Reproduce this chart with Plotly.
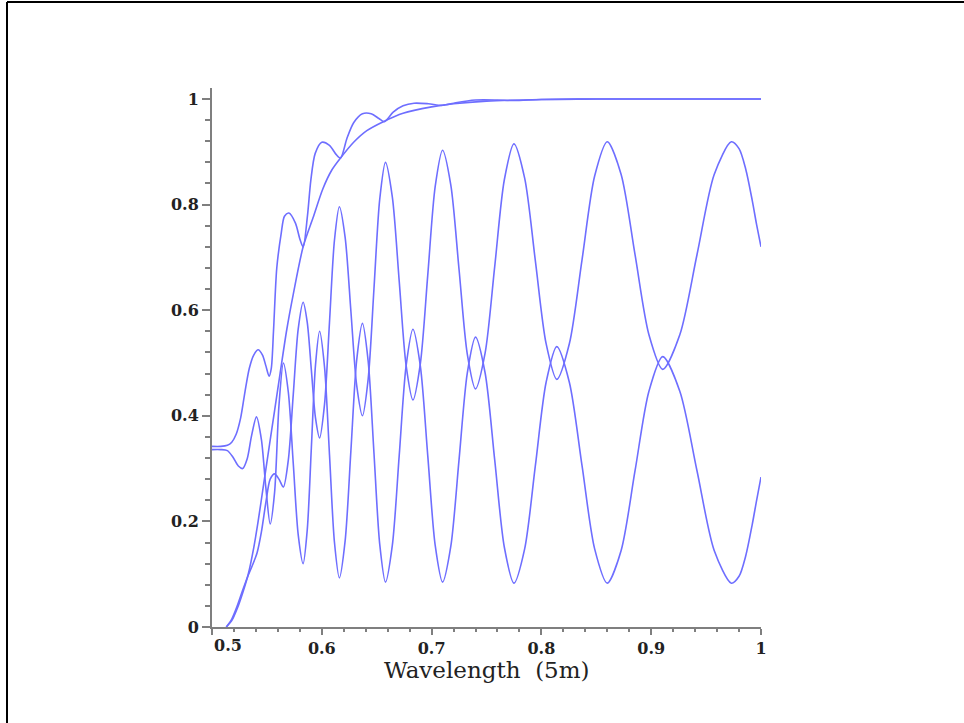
import plotly.graph_objects as go

# ---- data ----
a_x = [0.513, 0.518, 0.523, 0.528, 0.533, 0.538, 0.542, 0.547, 0.552, 0.557, 0.562, 0.568,
       0.574, 0.583, 0.592, 0.601, 0.609, 0.617, 0.629, 0.641, 0.656, 0.674, 0.700, 0.720,
       0.750, 0.800, 0.850, 1.000]
a_y = [0.000, 0.012, 0.035, 0.065, 0.100, 0.150, 0.200, 0.270, 0.340, 0.410, 0.480, 0.562,
       0.630, 0.720, 0.775, 0.830, 0.865, 0.888, 0.918, 0.940, 0.957, 0.973, 0.985, 0.991,
       0.996, 0.999, 1.000, 1.000]

b_x = [0.500, 0.508, 0.514, 0.518, 0.522, 0.526, 0.530, 0.534, 0.538, 0.542, 0.546, 0.549,
       0.552, 0.554, 0.556, 0.559, 0.563, 0.566, 0.570, 0.576, 0.580, 0.583, 0.587, 0.590,
       0.594, 0.600, 0.607, 0.613, 0.617, 0.623, 0.629, 0.637, 0.645, 0.652, 0.657, 0.665,
       0.674, 0.684, 0.697, 0.710, 0.722, 0.740, 0.760, 0.775, 0.800, 0.850, 1.000]
b_y = [0.342, 0.342, 0.344, 0.350, 0.365, 0.395, 0.445, 0.490, 0.515, 0.525, 0.515, 0.495,
       0.475, 0.490, 0.560, 0.680, 0.745, 0.778, 0.784, 0.765, 0.735, 0.720, 0.780, 0.846,
       0.897, 0.918, 0.912, 0.895, 0.888, 0.926, 0.955, 0.972, 0.972, 0.963, 0.957, 0.975,
       0.987, 0.992, 0.991, 0.988, 0.993, 0.998, 0.998, 0.997, 0.999, 1.000, 1.000]

c_x = [0.513, 0.518, 0.523, 0.528, 0.533, 0.537, 0.541, 0.545, 0.549, 0.553, 0.557, 0.561,
       0.565, 0.5695, 0.574, 0.5785,
       0.583, 0.58675, 0.5905, 0.59425,
       0.598, 0.6025, 0.607, 0.6115,
       0.616, 0.62125, 0.6265, 0.63175,
       0.637, 0.64225, 0.6475, 0.65275,
       0.658, 0.66425, 0.6705, 0.67675,
       0.683, 0.68975, 0.6965, 0.70325,
       0.710, 0.7175, 0.725, 0.7325,
       0.740, 0.74875, 0.7575, 0.76625,
       0.775, 0.78475, 0.7945, 0.80425,
       0.814, 0.8255, 0.837, 0.8485,
       0.860, 0.872625, 0.88525, 0.897875,
       0.9105, 0.926125, 0.94175, 0.957375,
       0.973, 0.980, 0.986, 0.992, 0.996, 1.000]
c_y = [0.000, 0.015, 0.040, 0.070, 0.098, 0.118, 0.140, 0.180, 0.235, 0.280, 0.290, 0.280,
       0.265, 0.316, 0.440, 0.564,
       0.615, 0.577, 0.4865, 0.396,
       0.358, 0.422, 0.577, 0.732,
       0.796, 0.738, 0.598, 0.458,
       0.400, 0.470, 0.640, 0.810,
       0.880, 0.814, 0.655, 0.496,
       0.430, 0.499, 0.6665, 0.834,
       0.903, 0.837, 0.677, 0.517,
       0.451, 0.519, 0.683, 0.847,
       0.915, 0.850, 0.6935, 0.537,
       0.469, 0.537, 0.6955, 0.854,
       0.919, 0.857, 0.7055, 0.554,
       0.488, 0.554, 0.7055, 0.857,
       0.919, 0.906, 0.868, 0.808, 0.762, 0.720]

d_x = [0.500, 0.508, 0.514, 0.519, 0.524, 0.528, 0.532, 0.536, 0.5405, 0.545, 0.549, 0.553,
       0.557, 0.561,
       0.565, 0.5695, 0.574, 0.5785,
       0.583, 0.58675, 0.5905, 0.59425,
       0.598, 0.6025, 0.607, 0.6115,
       0.616, 0.62125, 0.6265, 0.63175,
       0.637, 0.64225, 0.6475, 0.65275,
       0.658, 0.66425, 0.6705, 0.67675,
       0.683, 0.68975, 0.6965, 0.70325,
       0.710, 0.7175, 0.725, 0.7325,
       0.740, 0.74875, 0.7575, 0.76625,
       0.775, 0.78475, 0.7945, 0.80425,
       0.814, 0.8255, 0.837, 0.8485,
       0.860, 0.872625, 0.88525, 0.897875,
       0.9105, 0.926125, 0.94175, 0.957375,
       0.973, 0.980, 0.986, 0.992, 0.996, 1.000]
d_y = [0.336, 0.336, 0.334, 0.322, 0.305, 0.300, 0.318, 0.362, 0.398, 0.355, 0.265, 0.195,
       0.255, 0.420,
       0.500, 0.445, 0.310, 0.175,
       0.120, 0.184, 0.340, 0.496,
       0.560, 0.492, 0.3265, 0.161,
       0.093, 0.163, 0.334, 0.505,
       0.575, 0.503, 0.330, 0.157,
       0.085, 0.155, 0.3245, 0.494,
       0.564, 0.494, 0.3245, 0.155,
       0.085, 0.153, 0.317, 0.481,
       0.549, 0.481, 0.316, 0.151,
       0.083, 0.148, 0.3055, 0.463,
       0.531, 0.463, 0.3055, 0.148,
       0.083, 0.145, 0.2955, 0.446,
       0.512, 0.446, 0.2955, 0.145,
       0.083, 0.096, 0.134, 0.194, 0.240, 0.284]

x_tick_vals = [0.5, 0.6, 0.7, 0.8, 0.9, 1.0]
x_tick_text = ["", "0.6", "0.7", "0.8", "0.9", "1"]
y_tick_vals = [0, 0.2, 0.4, 0.6, 0.8, 1.0]
y_tick_text = ["0", "0.2", "0.4", "0.6", "0.8", "1"]
x_title = "Wavelength  (5m)"

LINE = "#6e6eff"
AXIS = "#7f7f7f"

fig = go.Figure()
for xs, ys in [(a_x, a_y), (b_x, b_y), (c_x, c_y), (d_x, d_y)]:
    fig.add_trace(go.Scatter(x=xs, y=ys, mode="lines",
                             line=dict(color=LINE, width=1.6, shape="spline", smoothing=0.8),
                             showlegend=False, hoverinfo="skip"))

L, R, T, B = 212, 203, 88, 96
W, H = 964, 723
pw, ph = W - L - R, H - T - B

tickfont = dict(family="DejaVu Serif", size=16, color="#222222", weight="bold")


def px_x(p):
    return (p - L) / pw


def px_y(p):
    return (T + ph - p) / ph


fig.update_layout(
    width=W, height=H,
    margin=dict(l=L, r=R, t=T, b=B, pad=0),
    paper_bgcolor="white", plot_bgcolor="white",
    xaxis=dict(range=[0.5, 1.0], showgrid=False, zeroline=False,
               showline=True, linecolor=AXIS, linewidth=2,
               tickmode="array", tickvals=x_tick_vals, ticktext=x_tick_text,
               ticks="outside", ticklen=6, tickwidth=2, tickcolor=AXIS,
               tickfont=tickfont,
               minor=dict(dtick=0.02, tick0=0.5, ticks="outside", ticklen=3,
                          tickwidth=2, tickcolor=AXIS, showgrid=False)),
    yaxis=dict(range=[0, 1.0208], showgrid=False, zeroline=False,
               showline=True, linecolor=AXIS, linewidth=2,
               tickmode="array", tickvals=y_tick_vals, ticktext=y_tick_text,
               ticks="outside", ticklen=8, tickwidth=2, tickcolor=AXIS,
               tickfont=tickfont,
               minor=dict(dtick=0.04, tick0=0, ticks="outside", ticklen=5,
                          tickwidth=2, tickcolor=AXIS, showgrid=False)),
    annotations=[
        dict(x=0.5, y=0, xref="x", yref="y", text="0.5", showarrow=False,
             xanchor="center", yanchor="top", xshift=16, yshift=-7,
             font=tickfont),
        dict(x=0.5, y=px_y(670), xref="paper", yref="paper", text=x_title,
             showarrow=False, xanchor="center", yanchor="middle",
             font=dict(family="DejaVu Serif", size=23, color="#222222")),
    ],
    shapes=[
        dict(type="line", xref="paper", yref="paper",
             x0=px_x(7), x1=px_x(7), y0=px_y(2), y1=px_y(H + 2),
             line=dict(color="black", width=2)),
        dict(type="line", xref="paper", yref="paper",
             x0=px_x(7), x1=px_x(W + 2), y0=px_y(2), y1=px_y(2),
             line=dict(color="black", width=2)),
    ],
)

fig.write_html("out.html",
               config={"displayModeBar": False},
               post_script="document.body.style.margin='0';document.body.style.padding='0';")
